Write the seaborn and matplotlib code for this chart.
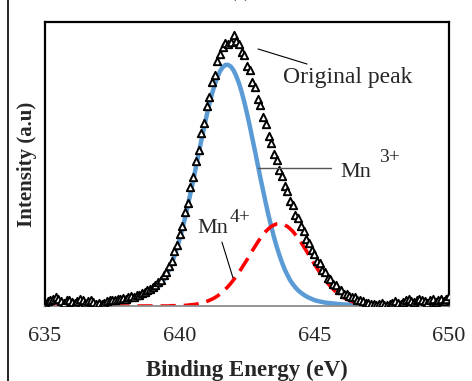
import numpy as np
import pandas as pd
import matplotlib
matplotlib.use("Agg")
import matplotlib.pyplot as plt
from matplotlib.patches import Rectangle
import seaborn as sns

# Binding energy grid (eV)
energy = [
    635.0, 635.1, 635.2, 635.3, 635.4, 635.5, 635.6, 635.7, 635.8, 635.9,
    636.0, 636.1, 636.2, 636.3, 636.4, 636.5, 636.6, 636.7, 636.8, 636.9,
    637.0, 637.1, 637.2, 637.3, 637.4, 637.5, 637.6, 637.7, 637.8, 637.9,
    638.0, 638.1, 638.2, 638.3, 638.4, 638.5, 638.6, 638.7, 638.8, 638.9,
    639.0, 639.1, 639.2, 639.3, 639.4, 639.5, 639.6, 639.7, 639.8, 639.9,
    640.0, 640.1, 640.2, 640.3, 640.4, 640.5, 640.6, 640.7, 640.8, 640.9,
    641.0, 641.1, 641.2, 641.3, 641.4, 641.5, 641.6, 641.7, 641.8, 641.9,
    642.0, 642.1, 642.2, 642.3, 642.4, 642.5, 642.6, 642.7, 642.8, 642.9,
    643.0, 643.1, 643.2, 643.3, 643.4, 643.5, 643.6, 643.7, 643.8, 643.9,
    644.0, 644.1, 644.2, 644.3, 644.4, 644.5, 644.6, 644.7, 644.8, 644.9,
    645.0, 645.1, 645.2, 645.3, 645.4, 645.5, 645.6, 645.7, 645.8, 645.9,
    646.0, 646.1, 646.2, 646.3, 646.4, 646.5, 646.6, 646.7, 646.8, 646.9,
    647.0, 647.1, 647.2, 647.3, 647.4, 647.5, 647.6, 647.7, 647.8, 647.9,
    648.0, 648.1, 648.2, 648.3, 648.4, 648.5, 648.6, 648.7, 648.8, 648.9,
    649.0, 649.1, 649.2, 649.3, 649.4, 649.5, 649.6, 649.7, 649.8, 649.9,
    650.0,
]

# Measured spectrum (original peak)
original = [
    0.012, 0.018, 0.022, 0.026, 0.030, 0.024, 0.016, 0.012, 0.020, 0.022,
    0.014, 0.010, 0.018, 0.024, 0.020, 0.012, 0.016, 0.020, 0.014, 0.008,
    0.010, 0.008, 0.012, 0.016, 0.020, 0.022, 0.020, 0.026, 0.024, 0.028,
    0.026, 0.031, 0.035, 0.033, 0.040, 0.039, 0.047, 0.050, 0.056, 0.060,
    0.066, 0.075, 0.084, 0.093, 0.108, 0.121, 0.141, 0.160, 0.192, 0.214,
    0.253, 0.283, 0.330, 0.362, 0.418, 0.455, 0.512, 0.548, 0.610, 0.645,
    0.705, 0.737, 0.790, 0.815, 0.862, 0.886, 0.911, 0.925, 0.924, 0.930,
    0.955, 0.932, 0.921, 0.893, 0.884, 0.846, 0.830, 0.790, 0.772, 0.728,
    0.707, 0.664, 0.641, 0.598, 0.575, 0.534, 0.515, 0.478, 0.459, 0.421,
    0.405, 0.370, 0.356, 0.322, 0.309, 0.280, 0.265, 0.236, 0.223, 0.196,
    0.184, 0.160, 0.150, 0.126, 0.119, 0.099, 0.094, 0.077, 0.073, 0.058,
    0.056, 0.043, 0.044, 0.034, 0.030, 0.031, 0.022, 0.020, 0.016, 0.012,
    0.010, 0.006, 0.008, 0.004, 0.006, 0.010, 0.004, 0.002, 0.006, 0.012,
    0.016, 0.010, 0.006, 0.014, 0.020, 0.024, 0.018, 0.014, 0.020, 0.024,
    0.022, 0.016, 0.010, 0.020, 0.024, 0.014, 0.020, 0.024, 0.018, 0.026,
    0.034,
]

# Fitted Mn3+ component
mn3 = [
    0.002, 0.002, 0.002, 0.002, 0.002, 0.002, 0.002, 0.002, 0.002, 0.002,
    0.002, 0.003, 0.003, 0.003, 0.003, 0.003, 0.003, 0.004, 0.004, 0.005,
    0.005, 0.006, 0.006, 0.007, 0.008, 0.009, 0.010, 0.011, 0.012, 0.014,
    0.016, 0.018, 0.020, 0.022, 0.025, 0.028, 0.032, 0.036, 0.041, 0.046,
    0.052, 0.059, 0.068, 0.078, 0.091, 0.107, 0.126, 0.149, 0.175, 0.204,
    0.236, 0.272, 0.311, 0.352, 0.396, 0.441, 0.488, 0.534, 0.581, 0.626,
    0.670, 0.710, 0.747, 0.779, 0.806, 0.827, 0.841, 0.849, 0.849, 0.843,
    0.830, 0.810, 0.785, 0.754, 0.718, 0.678, 0.635, 0.590, 0.544, 0.497,
    0.450, 0.405, 0.361, 0.319, 0.280, 0.243, 0.210, 0.180, 0.153, 0.129,
    0.109, 0.091, 0.077, 0.065, 0.055, 0.047, 0.040, 0.034, 0.029, 0.025,
    0.021, 0.018, 0.016, 0.014, 0.012, 0.011, 0.010, 0.009, 0.008, 0.007,
    0.006, 0.005, 0.005, 0.005, 0.005, 0.004, 0.004, 0.004, 0.004, 0.004,
    0.004, 0.003, 0.003, 0.003, 0.003, 0.003, 0.003, 0.003, 0.003, 0.003,
    0.003, 0.002, 0.002, 0.002, 0.002, 0.002, 0.002, 0.002, 0.002, 0.002,
    0.002, 0.002, 0.002, 0.002, 0.002, 0.002, 0.002, 0.002, 0.002, 0.002,
    0.002,
]

# Fitted Mn4+ component
mn4 = [
    0.0, 0.0, 0.0, 0.0, 0.0, 0.0, 0.0, 0.0, 0.0, 0.0,
    0.0, 0.0, 0.0, 0.0, 0.0, 0.0, 0.0, 0.0, 0.0, 0.0,
    0.0, 0.0, 0.0, 0.0, 0.0, 0.0, 0.0, 0.0, 0.0, 0.0,
    0.0, 0.0, 0.0, 0.0, 0.0, 0.0, 0.0, 0.0, 0.0, 0.0,
    0.0, 0.0, 0.0, 0.0, 0.0, 0.0, 0.0, 0.001, 0.001, 0.001,
    0.001, 0.002, 0.002, 0.003, 0.004, 0.005, 0.006, 0.008, 0.010, 0.013,
    0.016, 0.020, 0.024, 0.029, 0.035, 0.042, 0.050, 0.059, 0.069, 0.080,
    0.092, 0.105, 0.118, 0.133, 0.148, 0.163, 0.179, 0.195, 0.210, 0.225,
    0.239, 0.251, 0.263, 0.272, 0.280, 0.285, 0.289, 0.290, 0.289, 0.285,
    0.280, 0.272, 0.263, 0.251, 0.239, 0.225, 0.210, 0.195, 0.179, 0.163,
    0.148, 0.133, 0.118, 0.105, 0.092, 0.080, 0.069, 0.059, 0.050, 0.042,
    0.035, 0.029, 0.024, 0.020, 0.016, 0.013, 0.010, 0.008, 0.006, 0.005,
    0.004, 0.003, 0.002, 0.002, 0.001, 0.001, 0.001, 0.0, 0.0, 0.0,
    0.0, 0.0, 0.0, 0.0, 0.0, 0.0, 0.0, 0.0, 0.0, 0.0,
    0.0, 0.0, 0.0, 0.0, 0.0, 0.0, 0.0, 0.0, 0.0, 0.0,
    0.0,
]

xticks = [635, 640, 645, 650]

df = pd.DataFrame({"energy": energy, "original": original, "mn3": mn3, "mn4": mn4})

sns.set_style("white")
plt.rcParams["font.family"] = ["Liberation Serif", "DejaVu Serif"]

fig = plt.figure(figsize=(4.72, 3.81), dpi=100)
ax = fig.add_axes([45 / 472, 1 - 306 / 381, (449 - 45) / 472, (306 - 22) / 381])

sns.lineplot(data=df, x="energy", y="mn3", ax=ax, color="#5b9bd5", lw=3.2, zorder=2)
sns.lineplot(data=df, x="energy", y="mn4", ax=ax, color="#ff0000", lw=2.6, zorder=2.5)
ax.lines[-1].set_dashes([4.2, 2.2])
sns.scatterplot(data=df, x="energy", y="original", ax=ax, marker="^", s=28,
                color="white", edgecolor="black", linewidth=1.4, zorder=3)

ax.set_xlim(635, 650)
ax.set_ylim(0, 1)
ax.set_xticks(xticks)
ax.set_xticklabels([str(t) for t in xticks], fontsize=16)
ax.set_yticks([])
ax.tick_params(axis="x", direction="out", length=5, width=1.2, color="#8c8c8c", pad=10)

for side in ["left", "top", "right"]:
    ax.spines[side].set_color("black")
    ax.spines[side].set_linewidth(1.6)
ax.spines["bottom"].set_color("#8c8c8c")
ax.spines["bottom"].set_linewidth(1.3)

ax.set_xlabel("Binding Energy (eV)", fontsize=16.5, fontweight="bold", labelpad=10)
ax.set_ylabel("Intensity (a.u)", fontsize=15, fontweight="bold", labelpad=6)

# annotations
ax.plot([642.91, 644.73], [0.905, 0.852], color="black", lw=0.8, zorder=4)
ax.text(643.84, 0.803, "Original peak", fontsize=17, va="center", ha="left")

ax.plot([642.91, 645.62], [0.486, 0.486], color="#555555", lw=1.0, zorder=4)
ax.text(645.95, 0.470, "Mn", fontsize=16, va="center", ha="left")
ax.text(647.42, 0.522, "3+", fontsize=14, va="center", ha="left")

ax.plot([641.57, 641.98], [0.225, 0.099], color="black", lw=0.8, zorder=4)
ax.text(640.64, 0.273, "Mn", fontsize=16, va="center", ha="left")
ax.text(641.85, 0.312, "4+", fontsize=14, va="center", ha="left")

# outer frame and clipped title
fig.patches.append(Rectangle((8 / 472, -0.2), 1.2, 1.2 + 1 - 10 / 381,
                             transform=fig.transFigure, fill=False,
                             edgecolor="black", lw=1.2, clip_on=False))
fig.text(0.508, 1 - 1.0 / 381, "(a)", fontsize=14, ha="center", va="bottom")

fig.savefig("out.png", dpi=100)
